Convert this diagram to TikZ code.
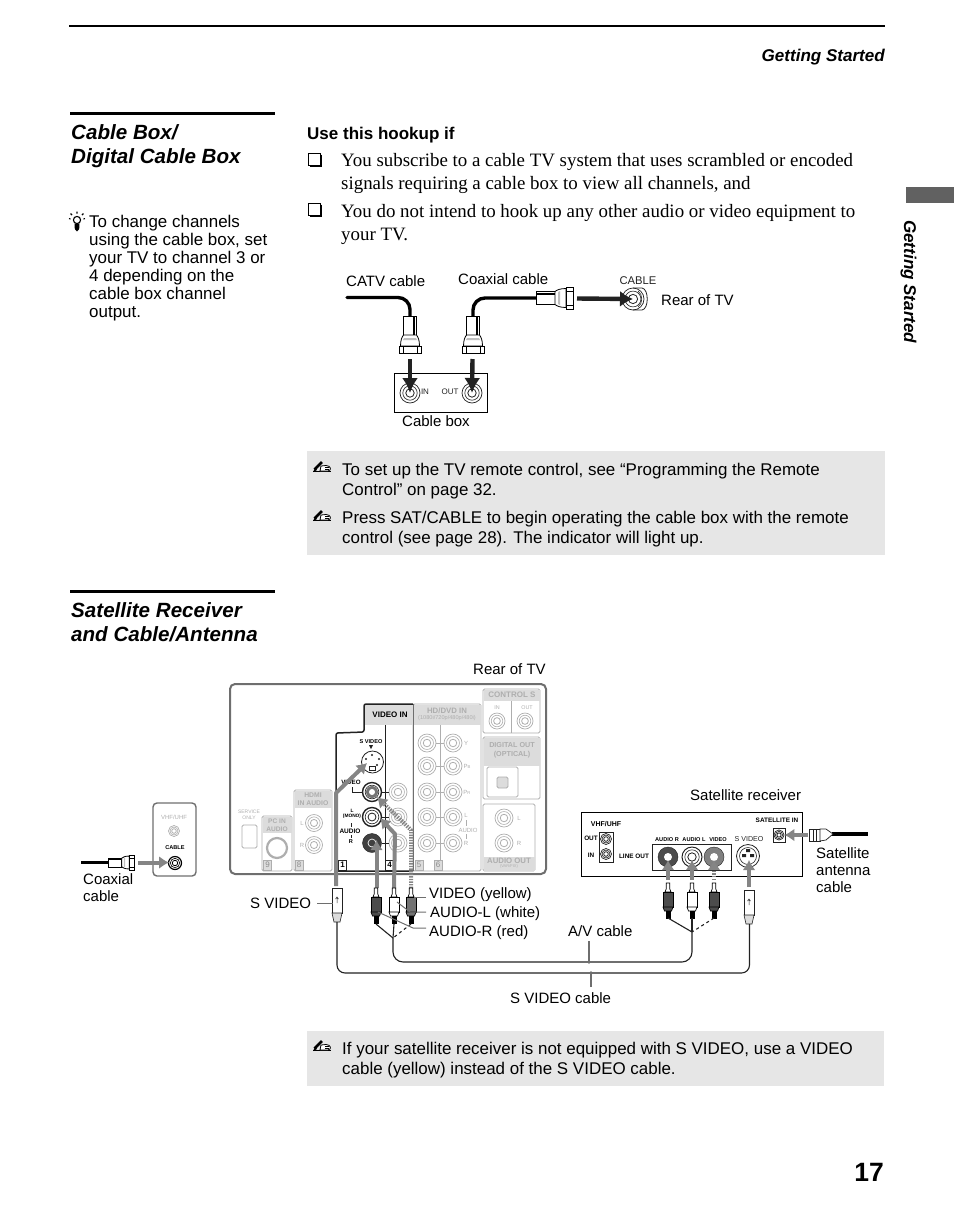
\documentclass[tikz,border=0pt]{standalone}
\usepackage{fontspec}
\setmainfont{Liberation Sans}
\newfontfamily\serifbody{Liberation Serif}
\usetikzlibrary{arrows.meta}
\definecolor{notebg}{HTML}{E6E6E6}
\definecolor{panel}{HTML}{6E6E6E}
\definecolor{faint}{HTML}{AEAEAE}
\definecolor{tabgray}{HTML}{DCDCDC}
\definecolor{arrowgray}{HTML}{858585}
\definecolor{dk}{HTML}{222222}
\newcommand{\jack}[5][]{% name, pos, radius, colour
 \node[circle,draw=#5,fill=white,line width=.7pt,minimum size=#4*2pt,inner sep=0pt,#1] (#2) at (#3) {};
 \draw[#5,line width=.6pt] (#2.center) circle ({#4*.72pt});
 \draw[#5,line width=.8pt] (#2.center) circle ({#4*.42pt});
}
\newcommand{\fplug}[4]{% x,y tip, rotation, scale
 \begin{scope}[shift={(#1,#2)},rotate=#3,scale=#4]
 \draw[fill=white,line width=.8pt] (-6.5,-37) rectangle (6.5,-18);
 \fill (3,-37) rectangle (4.6,-18);
 \draw[fill=white,line width=.8pt] (-6.5,-18) .. controls (-8,-16) and (-9.5,-13) .. (-9.5,-7) -- (9.5,-7) .. controls (9.5,-13) and (8,-16) .. (6.5,-18) -- cycle;
 \fill[black!25] (-6,-15) -- (6,-15) -- (7,-13) -- (-7,-13) -- cycle;
 \draw[fill=white,line width=.8pt] (-11,-7) rectangle (11,0);
 \draw[line width=.5pt] (-7,-7) -- (-7,0) (7,-7) -- (7,0);
 \end{scope}}
\newcommand{\rcaplug}[3]{% x, y top, fill
 \begin{scope}[shift={(#1,#2)}]
 \draw[fill=white,line width=.7pt] (-1.8,0) -- (-1.8,6) -- (-3,9) -- (3,9) -- (1.8,6) -- (1.8,0) -- cycle;
 \draw[fill=#3,line width=.7pt] (-5,9) rectangle (5,24);
 \draw[fill=#3,line width=.7pt] (-5,24) -- (5,24) -- (3.5,28) -- (-3.5,28) -- cycle;
 \fill[black] (-2.5,28) rectangle (2.5,36);
 \end{scope}}
\newcommand{\splug}[2]{% x, y top
 \begin{scope}[shift={(#1,#2)}]
 \draw[draw=dk,fill=white,line width=.6pt] (-5,0) rectangle (5,25);
 \draw[draw=dk,fill=tabgray,line width=.6pt] (-5,25) -- (5,25) -- (3,34) -- (-3,34) -- cycle;
 \draw[draw=dk,line width=.5pt] (0,9) -- (0,15) (-1.5,11) -- (0,9) -- (1.5,11);
 \end{scope}}
\newcommand{\noteicon}[2]{%
 \begin{scope}[shift={(#1,#2)}]
 \draw[line width=.7pt] (0,10.5) -- (18,10.5);
 \draw[line width=2.6pt] (1.5,8.5) -- (9,1);
 \fill (0,11) -- (2.5,6.5) -- (4,9) -- cycle;
 \draw[line width=.8pt,fill=white] (8,5) -- (13,4.5) .. controls (18,4.5) and (19,9.5) .. (15,10) -- (7,10) -- cycle;
 \draw[line width=.5pt] (12,6.5) -- (16,6.5) (12,8.3) -- (16,8.3);
 \end{scope}}
\newcommand{\cbx}[2]{%
 \draw[line width=.7pt] (#1,#2) rectangle ++(12,12);
 \draw[line width=1.8pt] (#1+13,#2+1.5) -- (#1+13,#2+13) -- (#1+1.5,#2+13);}
\tikzset{
 body/.style={font=\fontsize{16.95}{18}\selectfont,anchor=north west,inner sep=0pt,align=left},
 notetext/.style={font=\fontsize{16.95}{19.6}\selectfont,anchor=north west,inner sep=0pt,align=left},
 lbl/.style={font=\fontsize{15}{17}\selectfont,anchor=base west,inner sep=0pt,align=left},
 serifline/.style={font=\serifbody\fontsize{18.9}{23}\selectfont,anchor=north west,inner sep=0pt,align=left},
 title/.style={font=\bfseries\itshape\fontsize{20.6}{24.5}\selectfont,anchor=north west,inner sep=0pt,align=left},
 tiny/.style={font=\fontsize{6}{6.5}\selectfont,inner sep=0pt,text=faint,align=center},
 tinyb/.style={font=\bfseries\fontsize{6.4}{7}\selectfont,inner sep=0pt,align=center},
 tinyd/.style={font=\fontsize{7.1}{7.5}\selectfont,inner sep=0pt,align=center,text=dk},
 tabb/.style={fill=tabgray,draw=none},
 gbox/.style={draw=faint,line width=.8pt,rounded corners=1.5pt},
 num/.style={font=\fontsize{8}{8}\selectfont,text=black!45,draw=faint,line width=.5pt,fill=tabgray,inner sep=0pt,minimum width=8pt,minimum height=9.5pt},
 cableline/.style={line width=3.4pt,line cap=round},
 thinc/.style={line width=1.1pt,draw=dk},
 blackarrow/.style={line width=4.4pt,draw=dk,-{Latex[length=15pt,width=16pt]}},
 blackarrowh/.style={line width=4.4pt,draw=dk,-{Latex[length=13pt,width=16pt]}},
 grayarrow/.style={line width=4pt,draw=arrowgray,line join=round},
 gtip/.style={line width=4pt,draw=arrowgray,line join=round,-{Latex[length=10pt,width=13pt]}},
 leader/.style={line width=1pt,draw=panel},
}
\begin{document}
\begin{tikzpicture}[x=1pt,y=-1pt]
\useasboundingbox (0,0) rectangle (954,1221);
% page furniture
\draw[line width=1.6pt] (69,26) -- (885,26);
\node[font=\bfseries\itshape\fontsize{17.05}{18}\selectfont,anchor=base east,inner sep=0pt] (hdr) at (885,61) {Getting Started};
\fill[black!62] (906,187) rectangle (954,203);
\node[font=\bfseries\itshape\fontsize{17.05}{18}\selectfont,rotate=-90,anchor=base west,inner sep=0pt] (side) at (904,220) {Getting Started};
\node[font=\bfseries\fontsize{26.5}{30}\selectfont,anchor=base east,inner sep=0pt] (pagenum) at (884,1181) {17};
% titles
\draw[line width=3pt] (70,113) -- (275,113);
\node[title] (t1) at (71,124) {Cable Box/\\Digital Cable Box};
\draw[line width=3pt] (70,591.5) -- (275,591.5);
\node[title] (t2) at (71,602) {Satellite Receiver\\and Cable/Antenna};
% tip
\begin{scope}[shift={(77,220)}]
 \draw[line width=1.1pt] (0,0) circle (3.6pt);
 \draw[line width=1.1pt] (0,-6.5) -- (0,-8.5) (-5,-5) -- (-6.5,-6.5) (5,-5) -- (6.5,-6.5) (-6.5,-1) -- (-8,-1.5) (6.5,-1) -- (8,-1.5);
 \fill (-2.5,3.5) -- (2.5,3.5) -- (2.2,9) -- (0,11.5) -- (-2.2,9) -- cycle;
\end{scope}
\node[body] (tip) at (89,215) {To change channels\\using the cable box, set\\your TV to channel 3 or\\4 depending on the\\cable box channel\\output.};
% hookup
\node[font=\bfseries\fontsize{17}{18}\selectfont,anchor=base west,inner sep=0pt] (use) at (307,139) {Use this hookup if};
\cbx{308}{153}
\node[serifline] (s1) at (341,153) {You subscribe to a cable TV system that uses scrambled or encoded\\signals requiring a cable box to view all channels, and};
\cbx{308}{203}
\node[serifline] (s2) at (341,204) {You do not intend to hook up any other audio or video equipment to\\your TV.};
% top diagram
\node[draw,line width=.8pt,minimum width=93pt,minimum height=39pt,inner sep=0pt] (cbox) at (440.5,392.5) {};
\jack{jin}{410,393}{10}{dk}
\jack{jout}{472,393}{10}{dk}
\node[tinyd,font=\fontsize{8}{8}\selectfont] (inl) at (425,392) {IN};
\node[tinyd,font=\fontsize{8}{8}\selectfont] (outl) at (450,392) {OUT};
\jack{jcable}{633,299}{11}{dk}
\draw[dk,line width=.8pt] (633,288) -- (642,288) .. controls (649,289) and (649,309) .. (642,310) -- (633,310);
\draw[dk,line width=.6pt] (638,291) .. controls (643,294) and (643,304) .. (638,307);
\coordinate (catv0) at (347,297.5);
\coordinate (catv1) at (410,318);
\draw[cableline,rounded corners=12pt] (catv0) -- (410,297.5) -- (catv1);
\fplug{410}{353}{0}{1}
\coordinate (coax1) at (473,318);
\coordinate (coax2) at (537,298);
\draw[cableline,rounded corners=12pt] (coax1) -- (473,298) -- (coax2);
\fplug{473}{353}{0}{1}
\fplug{573}{298}{90}{1}
\coordinate (a1) at (410,359);
\coordinate (a2) at (472.5,359);
\coordinate (a3) at (577,298.5);
\draw[blackarrow] (a1) -- (jin.center);
\draw[blackarrow] (a2) -- (jout.center);
\draw[blackarrowh] (a3) -- (jcable.center);
\node[lbl] (catvl) at (346,286) {CATV cable};
\node[lbl] (coaxl) at (458,284) {Coaxial cable};
\node[font=\fontsize{11.2}{11}\selectfont,anchor=base,inner sep=0pt,text=dk] (cablel) at (638,284) {CABLE};
\node[lbl] (rear1) at (661,305) {Rear of TV};
\node[lbl] (boxl) at (402,426) {Cable box};
% note 1
\fill[notebg] (307,451) rectangle (885,555);
\noteicon{313}{461}
\noteicon{313}{510}
\node[notetext] (n1) at (342,463) {To set up the TV remote control, see “Programming the Remote\\Control” on page 32.};
\node[notetext] (n2) at (342,511) {Press SAT/CABLE to begin operating the cable box with the remote\\control (see page 28). The indicator will light up.};
% TV panel
\node[draw=panel,line width=2pt,rounded corners=5pt,minimum width=316pt,minimum height=190pt,inner sep=0pt] (tv) at (388,779) {};
% HD/DVD block
\draw[gbox] (413,704) -- (481,704) -- (481,871) -- (413,871) -- cycle;
\fill[tabb] (413.5,704.5) rectangle (480.5,725);
\node[tiny,font=\bfseries\fontsize{7.8}{8}\selectfont] (hd) at (447,710.5) {HD/DVD IN};
\node[tiny,font=\fontsize{5.6}{6}\selectfont] (hd2) at (447,718) {(1080i/720p/480p/480i)};
\draw[draw=faint,line width=.8pt] (440,725) -- (440,871);
\foreach \yy/\nm in {743/a,766/b,792/c,817/d,843/e}{
 \jack{h1\nm}{427,\yy}{9}{faint}
 \jack{h2\nm}{453,\yy}{9}{faint}
 \draw[faint,line width=.8pt] (h1\nm) -- (h2\nm);
}
\node[tiny] (ly) at (466,743) {Y};
\node[tiny] (lpb) at (467,766) {P\scalebox{.7}{B}};
\node[tiny] (lpr) at (467,792) {P\scalebox{.7}{R}};
\node[tiny] (ll) at (466,815) {L};
\node[tiny] (lr) at (466,843) {R};
\node[tiny] (laud) at (468,830) {AUDIO};
\draw[faint,line width=.5pt] (466,820)--(466,826) (466,834)--(466,839);
\node[num] (n5) at (419,865) {5};
\node[num] (n6) at (438,865) {6};
% VIDEO IN block
\fill[tabgray] (364,705) rectangle (413,725);
\draw[panel,line width=.8pt] (413,704) -- (413,871);
\draw[dk,line width=1.5pt,rounded corners=2pt] (413,704) -- (364,704) -- (364,732) -- (336,733) -- (336,871) -- (413,871);
\draw[dk,line width=.8pt] (385,725) -- (385,871);
\node[tinyb,font=\bfseries\fontsize{8}{8}\selectfont] (vin) at (390,714.5) {VIDEO IN};
\node[tinyb,font=\bfseries\fontsize{5.6}{6}\selectfont] (sv) at (371,742) {S VIDEO};
\fill[dk] (369,745) -- (373,745) -- (371,749) -- cycle;
\node[circle,draw=dk,line width=.8pt,fill=white,minimum size=22pt,inner sep=0pt] (jsv) at (372.5,762) {};
\fill[dk] (369,766) rectangle (376,771);
\fill[white] (370,767) rectangle (375,770);
\fill[dk] (366,759) circle (1.2pt) (379,759) circle (1.2pt) (377,765) circle (1.2pt) (372,755) circle (1.2pt);
\foreach \yy/\nm in {792/c,817/d,843/e}{
 \jack{m\nm}{398,\yy}{9}{faint}
}
\jack[line width=1.4pt]{kc}{372,792}{9.5}{dk}
\jack[line width=1.4pt]{kd}{372,817}{9.5}{dk}
\node[circle,fill=black!75,draw=dk,minimum size=19pt,inner sep=0pt] (ke) at (372,843) {};
\draw[white,line width=.7pt] (ke.center) circle (4pt);
\fill[black!55] (kc.center) circle (6pt);
\fill[white] (kc.center) circle (3pt);
\draw[dk,line width=.7pt] (kc) -- (mc) (kd) -- (md) (ke) -- (me);
\node[tinyb,font=\bfseries\fontsize{6.2}{6.5}\selectfont] (vl) at (351,782) {VIDEO};
\draw[dk,line width=.6pt] (352,787) -- (352,792) -- (362,792);
\node[tinyb,font=\bfseries\fontsize{4.8}{5.6}\selectfont] (ml) at (352,814) {L\\(MONO)};
\node[tinyb,font=\bfseries\fontsize{6.5}{7}\selectfont] (al) at (350,831) {AUDIO};
\node[tinyb,font=\bfseries\fontsize{5.6}{6}\selectfont] (rl) at (351,842) {R};
\draw[dk,line width=.5pt] (351,823)--(351,827) (351,835)--(351,838);
\node[num,draw=dk,fill=white,text=black,font=\bfseries\fontsize{8}{8}\selectfont] (n1b) at (342.5,865) {1};
\node[num,draw=dk,fill=white,text=black,font=\bfseries\fontsize{8}{8}\selectfont] (n4b) at (389.5,865) {4};
% Control S
\draw[gbox] (483,689) rectangle (540,733);
\fill[tabb] (483.5,689.5) rectangle (539.5,701);
\draw[faint,line width=.8pt] (511,701) -- (511,733);
\node[tiny,font=\bfseries\fontsize{8}{8}\selectfont] (cs) at (512,695) {CONTROL S};
\node[tiny,font=\fontsize{5.4}{6}\selectfont] (csi) at (497,708) {IN};
\node[tiny,font=\fontsize{5.4}{6}\selectfont] (cso) at (527,708) {OUT};
\jack{cs1}{497,721}{8}{faint}
\jack{cs2}{525,721}{8}{faint}
% Digital out
\draw[gbox] (483,737) rectangle (540,799);
\fill[tabb] (483.5,737.5) rectangle (539.5,766);
\node[tiny,font=\bfseries\fontsize{7.2}{9}\selectfont] (dig) at (512,750) {DIGITAL OUT\\(OPTICAL)};
\draw[gbox] (487,767) rectangle (518,797);
\draw[gbox,fill=tabgray] (497,777) rectangle (508,788);
% Audio out
\draw[gbox] (483,804) rectangle (535,871);
\fill[tabb] (483.5,857) rectangle (534.5,870.5);
\jack{ao1}{504,818}{9}{faint}
\jack{ao2}{504,843}{9}{faint}
\node[tiny] (aol) at (519,818) {L};
\node[tiny] (aor) at (519,843) {R};
\node[tiny,font=\bfseries\fontsize{7.8}{8}\selectfont] (aot) at (509,861) {AUDIO OUT};
\node[tiny,font=\fontsize{4}{4}\selectfont] (aov) at (509,866.5) {(VAR/FIX)};
% HDMI
\draw[gbox] (294,790) rectangle (332,871);
\fill[tabb] (294.5,790.5) rectangle (331.5,808);
\node[tiny,font=\bfseries\fontsize{6.8}{8}\selectfont] (hdmi) at (313,799) {HDMI\\IN AUDIO};
\jack{hd1}{314,823}{8.5}{faint}
\jack{hd2}{314,845}{8.5}{faint}
\node[tiny] (hdl) at (302,823) {L};
\node[tiny] (hdr2) at (302,845) {R};
\node[num] (n8) at (299,865) {8};
% PC in
\draw[gbox] (262,816) rectangle (292,871);
\fill[tabb] (262.5,816.5) rectangle (291.5,833);
\node[tiny,font=\bfseries\fontsize{6.6}{7.6}\selectfont] (pc) at (277,825) {PC IN\\AUDIO};
\node[circle,draw=faint,line width=2.2pt,fill=white,minimum size=20pt,inner sep=0pt] (pcj) at (277,848) {};
\node[num] (n9) at (267.5,865) {9};
% service
\node[tiny,font=\fontsize{5}{5.6}\selectfont] (serv) at (249,815) {SERVICE\\ONLY};
\draw[gbox] (242,825) rectangle (257,848);
% gray arrows on panel
\coordinate (g1a) at (336,886); \coordinate (g1b) at (336,793); \coordinate (g1c) at (367,763);
\coordinate (g2a) at (376.5,888); \coordinate (g2c) at (376.5,840);
\coordinate (g3a) at (394,888); \coordinate (g3b) at (395,834); \coordinate (g3c) at (380,818);
\coordinate (g4a) at (411,888); \coordinate (g4b) at (411,830); \coordinate (g4c) at (377,797);
\draw[gtip] (g1a) -- (g1b) -- (g1c);
\draw[gtip] (g2a) -- (g2c);
\draw[gtip] (g3a) -- (g3b) -- (g3c);
\draw[gtip,dash pattern=on 1.4pt off 1.2pt] (g4a) -- (g4b) -- (g4c);
% plugs under TV
\splug{337}{888}
\rcaplug{376}{888}{black!70}
\rcaplug{394}{888}{white}
\rcaplug{411}{888}{black!55}
\coordinate (yl) at (393,938);
\coordinate (pr) at (376,924); \coordinate (pl) at (394,924); \coordinate (pv) at (411,924);
\draw[thinc] (pr) -- (yl); \draw[thinc] (pl) -- (yl); \draw[thinc,dashed] (pv) -- (yl);
% receiver
\node[draw,line width=.9pt,minimum width=221pt,minimum height=64pt,inner sep=0pt] (recv) at (691.5,844) {};
\node[tinyb,font=\bfseries\fontsize{7}{7}\selectfont] (vhf) at (606,824) {VHF/UHF};
\node[tinyb] (rout) at (591,838) {OUT};
\node[tinyb] (rin) at (591,855) {IN};
\draw[dk,line width=.8pt] (599,832) rectangle (613,862);
\jack{r1}{606,839}{5.5}{dk}
\jack{r2}{606,854}{5.5}{dk}
\node[tinyb] (lo) at (634,856) {LINE OUT};
\draw[dk,line width=.8pt] (652,844) rectangle (731,870);
\node[tinyb,font=\bfseries\fontsize{5.6}{6}\selectfont] (ar) at (667,840) {AUDIO R};
\node[tinyb,font=\bfseries\fontsize{5.6}{6}\selectfont] (alr) at (694,840) {AUDIO L};
\node[tinyb,font=\bfseries\fontsize{5.6}{6}\selectfont] (vr) at (718,840) {VIDEO};
\node[tinyd] (svr) at (749,839) {S VIDEO};
\node[circle,fill=black!70,draw=dk,minimum size=20pt,inner sep=0pt] (rj1) at (668,857) {};
\fill[white] (rj1.center) circle (4pt);
\jack[line width=1pt]{rj2}{692,857}{10}{dk}
\node[circle,fill=black!50,draw=dk,minimum size=20pt,inner sep=0pt] (rj3) at (714,857) {};
\fill[white] (rj3.center) circle (4pt);
\node[circle,draw=dk,line width=.8pt,fill=white,minimum size=23pt,inner sep=0pt] (rjs) at (748,856) {};
\draw[dk,line width=.6pt] (748,856) circle (8.5pt);
\fill[dk] (742,854) rectangle (746,857) (750,854) rectangle (754,857) (746,849) rectangle (750,852);
\node[tinyb] (satin) at (777,820) {SATELLITE IN};
\draw[dk,line width=.8pt] (773,828) rectangle (785,842);
\jack{rsat}{779,835}{5}{dk}
\coordinate (ra1) at (668,880); \coordinate (ra2) at (692,880); \coordinate (ra3) at (714,880); \coordinate (ra4) at (749,887);
\coordinate (rb3) at (714,868);
\coordinate (rt1) at (668,860); \coordinate (rt2) at (692,860); \coordinate (rt3) at (714,860); \coordinate (rt4) at (749,860);
\draw[gtip] (ra1) -- (rt1);
\draw[gtip] (ra2) -- (rt2);
\draw[gtip] (rb3) -- (rt3);
\draw[line width=4pt,draw=arrowgray,dash pattern=on 1.4pt off 1.2pt] (ra3) -- (rb3);
\draw[gtip] (ra4) -- (rt4);
\rcaplug{668}{883}{black!70}
\rcaplug{692}{883}{white}
\rcaplug{714}{883}{black!70}
\splug{749}{890}
\coordinate (yr) at (692,932);
\coordinate (qr) at (668,918); \coordinate (ql) at (692,918); \coordinate (qv) at (714,918);
\draw[thinc] (qr) -- (yr); \draw[thinc] (ql) -- (yr); \draw[thinc,dashed] (qv) -- (yr);
% cables between
\draw[thinc,rounded corners=10pt] (yl) -- (393,962) -- (692,962) -- (yr);
\coordinate (st) at (337,922); \coordinate (sr) at (749.5,924);
\draw[thinc,rounded corners=8pt] (st) -- (337,973) -- (749.5,973) -- (sr);
% satellite plug
\coordinate (sa) at (808,835);
\draw[gtip] (sa) -- (rsat.east);
\coordinate (sc) at (868,834);
\draw[cableline,line cap=butt] (832,834) -- (sc);
\draw[draw=dk,fill=white,line width=.7pt] (809,829) rectangle (820,841);
\draw[dk,line width=.5pt] (813,829) -- (813,841) (816,829) -- (816,841);
\draw[draw=dk,fill=white,line width=.7pt] (820,829) -- (826,829) -- (833,834) -- (826,840) -- (820,841) -- cycle;
% left VHF box
\node[draw=panel,line width=1.4pt,rounded corners=4pt,minimum width=43pt,minimum height=73pt,inner sep=0pt] (lbox) at (174.5,839.5) {};
\node[tiny] (lv) at (174,817) {VHF/UHF};
\jack{lj1}{174,831}{5.5}{faint}
\node[tinyb,font=\bfseries\fontsize{5.6}{6}\selectfont] (lc) at (175,848) {CABLE};
\jack[line width=1.2pt]{lj2}{175,863}{6.5}{black}
\coordinate (lc0) at (81,862.5);
\draw[cableline,line cap=butt] (lc0) -- (112,862.5);
\fplug{134}{862.5}{90}{.68}
\coordinate (la) at (138,862.5);
\coordinate (lt) at (169,862.5);
\draw[gtip] (la) -- (lt);
% labels lower
\node[lbl] (rear2) at (473,674) {Rear of TV};
\node[lbl] (satr) at (690,800) {Satellite receiver};
\node[lbl,anchor=north west] (sata) at (816,847) {Satellite\\antenna\\cable};
\node[lbl,anchor=north west] (coax2l) at (83,873) {Coaxial\\cable};
\node[lbl] (svl) at (250,908) {S VIDEO};
\node[lbl] (vyl) at (429,898) {VIDEO (yellow)};
\node[lbl] (all) at (430,917) {AUDIO-L (white)};
\node[lbl] (arl) at (429,936) {AUDIO-R (red)};
\node[lbl] (avl) at (568,936) {A/V cable};
\node[lbl] (svcl) at (510,1003) {S VIDEO cable};
\coordinate (k0a) at (317,903); \coordinate (k0b) at (333,903);
\draw[leader] (k0a) -- (k0b);
\coordinate (k1a) at (426,897); \coordinate (k1b) at (414,897);
\draw[leader] (k1a) -- (k1b);
\coordinate (k2a) at (426,912); \coordinate (k2b) at (397,902);
\draw[leader] (k2a) -- (410,912) -- (k2b);
\coordinate (k3a) at (426,928); \coordinate (k3b) at (378,912);
\draw[leader] (k3a) -- (413,928) -- (k3b);
\coordinate (av1) at (589,941); \coordinate (av2) at (589,962);
\draw[leader,line width=1.4pt] (av1) -- (av2);
\fill[panel] (av2) circle (1.8pt);
\coordinate (sv1) at (591,987); \coordinate (sv2) at (591,973);
\draw[leader,line width=1.4pt] (sv1) -- (sv2);
\fill[panel] (sv2) circle (1.8pt);
% note 2
\fill[notebg] (307,1031) rectangle (884,1086);
\noteicon{313}{1040}
\node[notetext] (n3) at (342,1042) {If your satellite receiver is not equipped with S VIDEO, use a VIDEO\\cable (yellow) instead of the S VIDEO cable.};
\end{tikzpicture}
\end{document}
